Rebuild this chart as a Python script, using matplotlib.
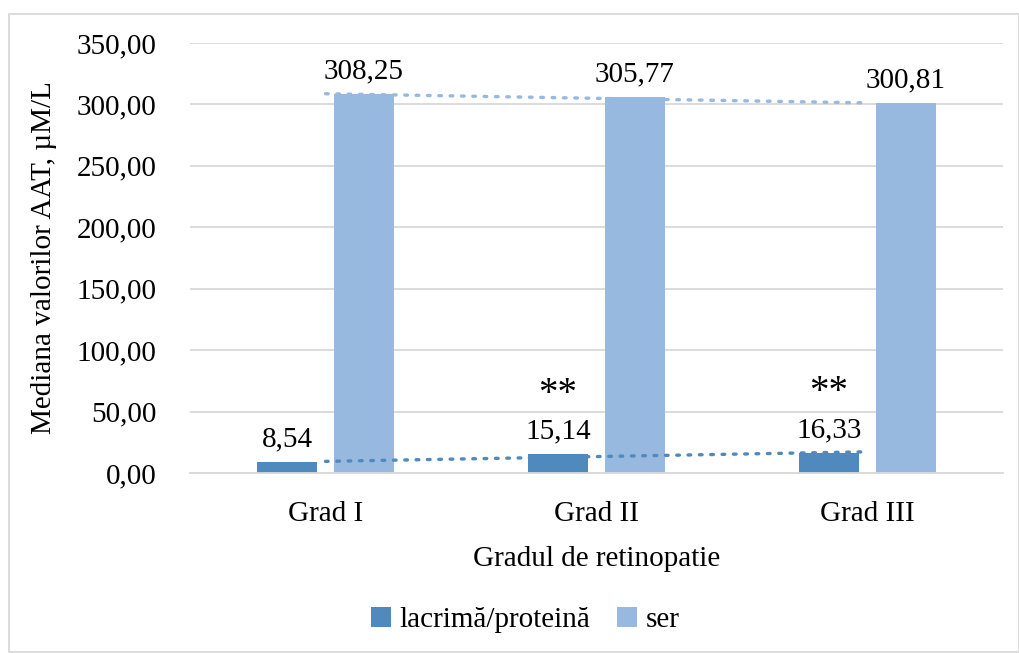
import numpy as np
import matplotlib
matplotlib.use("Agg")
import matplotlib.pyplot as plt
from matplotlib.patches import Rectangle

categories = ["Grad I", "Grad II", "Grad III"]
lacrima = [8.54, 15.14, 16.33]
ser = [308.25, 305.77, 300.81]
stars = ["", "**", "**"]
series_names = ["lacrimă/proteină", "ser"]
yticks = [0, 50, 100, 150, 200, 250, 300, 350]

dark = "#4f89bd"
light = "#97b9e0"
grid_c = "#d9d9d9"

serif = ["Liberation Serif", "DejaVu Serif"]
plt.rcParams["font.family"] = serif
FS = 21

fig = plt.figure(figsize=(10.2, 6.53), dpi=100)
ax = fig.add_axes([0.1863, 0.2757, 0.7967, 0.6585])

x = np.arange(len(categories))
w = 0.222
off = 0.142
ax.bar(x - off, lacrima, w, color=dark, label=series_names[0], zorder=2)
ax.bar(x + off, ser, w, color=light, label=series_names[1], zorder=2)

fmt = lambda v: f"{v:.2f}".replace(".", ",")
for i in range(len(x)):
    ax.text(x[i] - off, lacrima[i] + 8, fmt(lacrima[i]), ha="center", va="bottom", fontsize=FS)
    if stars[i]:
        ax.text(x[i] - off, lacrima[i] + 34, stars[i], ha="center", va="bottom", fontsize=28)
    ax.text(x[i] + off, ser[i] + 8, fmt(ser[i]), ha="center", va="bottom", fontsize=FS)

# linear trendlines
for vals, c in [(lacrima, dark), (ser, light)]:
    k, b = np.polyfit(x, vals, 1)
    ax.plot([x[0], x[-1]], [k * x[0] + b, k * x[-1] + b], ls=(0, (0.8, 2.6)),
            lw=2.4, color=c, zorder=3, dash_capstyle="round")

ax.set_xlim(-0.5, 2.5)
ax.set_ylim(0, 350)
ax.set_yticks(yticks)
ax.set_yticklabels([fmt(v) for v in yticks], fontsize=FS)
ax.set_xticks(x)
ax.set_xticklabels(categories, fontsize=FS)
ax.tick_params(length=0)
ax.tick_params(axis="x", pad=20)
ax.tick_params(axis="y", pad=24)
ax.grid(axis="y", color=grid_c, lw=1.3, zorder=0)
for s in ["top", "right", "left"]:
    ax.spines[s].set_visible(False)
ax.spines["bottom"].set_color(grid_c)
ax.spines["bottom"].set_linewidth(1.3)

ax.set_xlabel("Gradul de retinopatie", fontsize=FS, labelpad=14)
ax.set_ylabel("Mediana valorilor AAT, µM/L", fontsize=FS, labelpad=14)

fig.legend(loc="center", bbox_to_anchor=(0.515, 1 - 620 / 653), ncol=2, frameon=False,
           prop={"family": serif, "size": FS}, handlelength=0.7, handleheight=0.7,
           handletextpad=0.3, columnspacing=0.9)

fig.patches.append(Rectangle((9 / 1020, 0.001), 1010 / 1020, 1 - 14 / 653 - 0.001,
                             transform=fig.transFigure, fill=False,
                             edgecolor=grid_c, lw=1.3))

fig.savefig("out.png", dpi=100)
